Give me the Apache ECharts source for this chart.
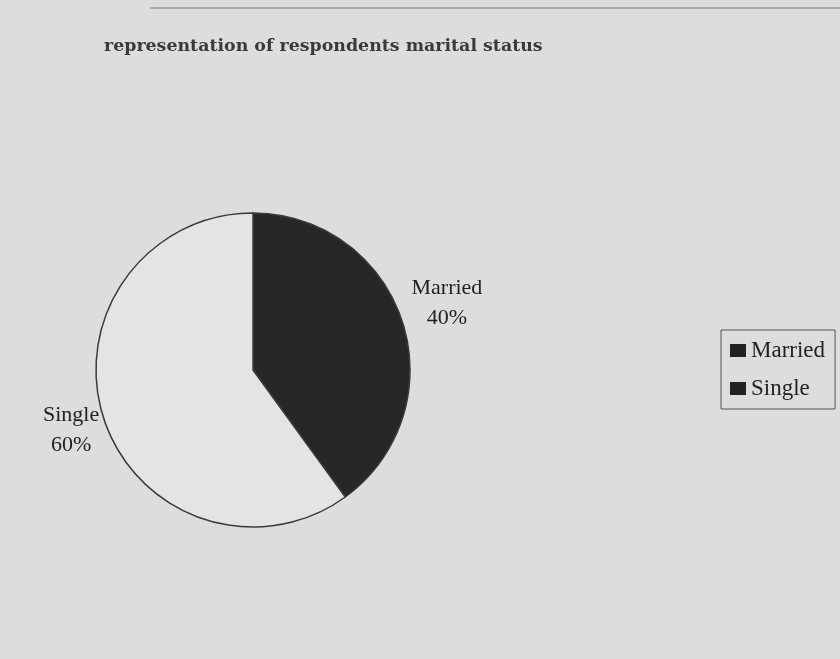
<!DOCTYPE html>
<html>
<head>
<meta charset="utf-8">
<script src="https://cdn.jsdelivr.net/npm/echarts@6/dist/echarts.min.js"></script>
<style>
html,body{margin:0;padding:0;background:#dddddd;}
#chart{width:840px;height:659px;}
</style>
</head>
<body>
<div id="chart"></div>
<script>
const titleText = 'representation of respondents marital status';
const categories = ['Married', 'Single'];
const percentages = [40, 60];

const sliceColors = ['#272727', '#e4e4e4'];

const chart = echarts.init(document.getElementById('chart'), null, {renderer: 'canvas'});

const labelShift = [
  {dx: 32, dy: -16, align: 'center'},
  {dx: -20, dy: 9, align: 'center'}
];

chart.setOption({
  backgroundColor: '#dddddd',
  animation: false,
  title: {
    text: titleText,
    left: 99,
    top: 33,
    textStyle: {
      fontFamily: 'DejaVu Serif',
      fontWeight: 'bold',
      fontSize: 17.4,
      color: '#3a3a3a'
    }
  },
  graphic: [{
    type: 'line',
    shape: {x1: 150, y1: 8, x2: 840, y2: 8},
    style: {stroke: '#7a7a7a', lineWidth: 1.5, opacity: 0.7},
    silent: true
  }],
  legend: {
    orient: 'vertical',
    left: 721,
    top: 330,
    padding: [9, 10, 9, 9],
    itemGap: 15,
    itemWidth: 16,
    itemHeight: 13,
    icon: 'rect',
    borderColor: '#555',
    borderWidth: 1,
    data: categories.map(c => ({name: c, itemStyle: {color: '#222', borderWidth: 0}})),
    textStyle: {
      fontFamily: 'Liberation Serif',
      fontSize: 23,
      lineHeight: 22,
      color: '#222',
      padding: [0, 0, 0, 0]
    }
  },
  series: [{
    type: 'pie',
    center: [253, 370],
    radius: 157,
    startAngle: 90,
    clockwise: true,
    data: categories.map((c, i) => ({
      name: c,
      value: percentages[i],
      itemStyle: {color: sliceColors[i]}
    })),
    itemStyle: {borderColor: '#3a3a3a', borderWidth: 1.5},
    label: {
      show: true,
      position: 'outside',
      formatter: p => p.name + '\n' + p.value + '%',
      fontFamily: 'Liberation Serif',
      fontSize: 22,
      lineHeight: 30,
      color: '#222'
    },
    labelLine: {show: false, length: 8, length2: 0},
    labelLayout: function (params) {
      return labelShift[params.dataIndex];
    },
    emphasis: {disabled: true}
  }]
});
</script>
</body>
</html>
